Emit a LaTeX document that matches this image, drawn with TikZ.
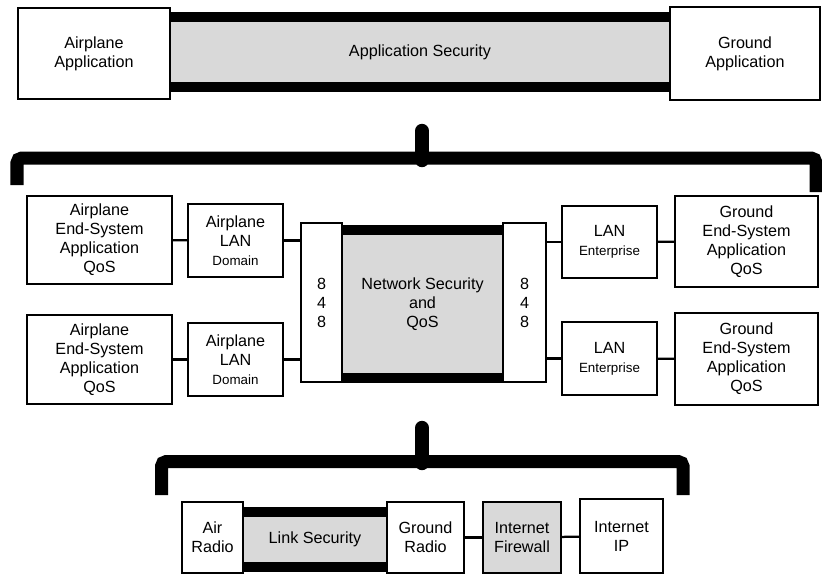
\documentclass[tikz,border=0pt]{standalone}
\usepackage{fontspec}
\setmainfont{Liberation Sans}
\usepackage{tikz}

\newcommand{\smalltxt}[1]{{\fontsize{9.5}{11}\selectfont #1}}

\begin{document}
\begin{tikzpicture}[%
        x=0.025cm, y=-0.025cm,
        box/.style={rectangle, draw=black, line width=1.6pt, fill=white, align=center, inner sep=1pt, font=\fontsize{11.5}{13.5}\selectfont},
        shaded/.style={box, fill=gray!30},
        band/.style={rectangle, fill=gray!30, align=center, inner sep=0pt, font=\fontsize{11.5}{13.5}\selectfont},
        bar/.style={line width=0.25cm},
        brace/.style={line width=0.325cm, rounded corners=0.12cm},
        tip/.style={line width=0.36cm, line cap=round},
        link/.style={line width=1.6pt}]
        \useasboundingbox (0,0) rectangle (822,575);

        % Application level
        \node [band, minimum width=12.5cm, minimum height=1.75cm] (appsec) at (420,52) {Application Security};
        \draw[bar] (appsec.north west) -- (appsec.north east);
        \draw[bar] (appsec.south west) -- (appsec.south east);
        \node [box, minimum width=3.8cm, minimum height=2.275cm] (airapp) at (94,53.5) {Airplane\\Application};
        \node [box, minimum width=3.75cm, minimum height=2.325cm] (gndapp) at (745,53.5) {Ground\\Application};

        % Braces
        \draw[brace] (17,185) -- (17,158) -- (816,158) -- (816,192);
        \draw[tip] (422,160) -- (422,131);
        \draw[brace] (161.5,495) -- (161.5,461.5) -- (683,461.5) -- (683,495);
        \draw[tip] (422,463) -- (422,428);

        % Network level
        \node [band, minimum width=4.025cm, minimum height=3.675cm] (netsec) at (422.5,304) {Network Security\\and\\QoS};
        \draw[bar] (netsec.north west) -- (netsec.north east);
        \draw[bar] (netsec.south west) -- (netsec.south east);
        \node [box, minimum width=1.025cm, minimum height=3.975cm] (leftgw) at (321.5,302.5) {8\\4\\8};
        \node [box, minimum width=1.075cm, minimum height=3.975cm] (rightgw) at (524.5,302.5) {8\\4\\8};
        \node [box, minimum width=3.625cm, minimum height=2.2cm] (airsys1) at (99.5,240) {Airplane\\End-System\\Application\\QoS};
        \node [box, minimum width=3.625cm, minimum height=2.225cm] (airsys2) at (99.5,359.5) {Airplane\\End-System\\Application\\QoS};
        \node [box, minimum width=2.375cm, minimum height=1.825cm] (airlan1) at (235.5,240.5) {Airplane\\LAN\\\smalltxt{Domain}};
        \node [box, minimum width=2.375cm, minimum height=1.825cm] (airlan2) at (235.5,359.5) {Airplane\\LAN\\\smalltxt{Domain}};
        \node [box, minimum width=2.375cm, minimum height=1.8cm] (entlan1) at (609.5,242) {LAN\\\smalltxt{Enterprise}};
        \node [box, minimum width=2.375cm, minimum height=1.825cm] (entlan2) at (609.5,358.5) {LAN\\\smalltxt{Enterprise}};
        \node [box, minimum width=3.575cm, minimum height=2.275cm] (gndsys1) at (746.5,241.5) {Ground\\End-System\\Application\\QoS};
        \node [box, minimum width=3.575cm, minimum height=2.3cm] (gndsys2) at (746.5,359) {Ground\\End-System\\Application\\QoS};

        % Link level
        \node [band, minimum width=3.6cm, minimum height=1.375cm] (linksec) at (315,539.5) {Link Security};
        \draw[bar] (linksec.north west) -- (linksec.north east);
        \draw[bar] (linksec.south west) -- (linksec.south east);
        \node [box, minimum width=1.525cm, minimum height=1.775cm] (airradio) at (212.5,537.5) {Air\\Radio};
        \node [box, minimum width=1.925cm, minimum height=1.775cm] (gndradio) at (425.5,537.5) {Ground\\Radio};
        \node [shaded, minimum width=1.95cm, minimum height=1.775cm] (firewall) at (522,537.5) {Internet\\Firewall};
        \node [box, minimum width=2.075cm, minimum height=1.85cm] (inetip) at (621.5,536) {Internet\\IP};

        % Edges
        \draw[link] (airsys1) -- (airlan1);
        \draw[link] (airsys2) -- (airlan2);
        \draw[link] (airlan1.east) -- (airlan1.east -| leftgw.west);
        \draw[link] (airlan2.east) -- (airlan2.east -| leftgw.west);
        \draw[link] (entlan1.west -| rightgw.east) -- (entlan1.west);
        \draw[link] (entlan2.west -| rightgw.east) -- (entlan2.west);
        \draw[link] (entlan1) -- (gndsys1);
        \draw[link] (entlan2) -- (gndsys2);
        \draw[link] (gndradio) -- (firewall);
        \draw[link] (firewall) -- (inetip);
    \end{tikzpicture}
\end{document}
